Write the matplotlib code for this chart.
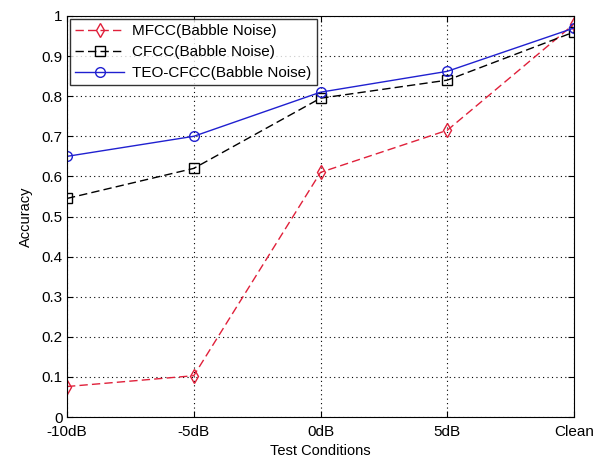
import numpy as np
import matplotlib
matplotlib.use("Agg")
import matplotlib.pyplot as plt

plt.rcParams['font.family'] = ['Liberation Sans', 'DejaVu Sans']

# data
conditions = ['-10dB', '-5dB', '0dB', '5dB', 'Clean']
mfcc = [0.076, 0.103, 0.61, 0.715, 0.98]
cfcc = [0.545, 0.62, 0.795, 0.84, 0.96]
teo_cfcc = [0.65, 0.70, 0.81, 0.862, 0.97]
yticks = [0, 0.1, 0.2, 0.3, 0.4, 0.5, 0.6, 0.7, 0.8, 0.9, 1]

fig = plt.figure(figsize=(6.02, 4.57), dpi=100)
ax = fig.add_axes([0.1113, 0.0875, 0.8422, 0.8775])

x = np.arange(len(conditions))
ax.plot(x, mfcc, linestyle='--', color='#e0203a', marker='d', markersize=7,
        markerfacecolor='none', linewidth=1, dashes=(6, 3),
        label='MFCC(Babble Noise)')
ax.plot(x, cfcc, linestyle='--', color='black', marker='s', markersize=7,
        markerfacecolor='none', linewidth=1, dashes=(6, 3),
        label='CFCC(Babble Noise)')
ax.plot(x, teo_cfcc, linestyle='-', color='#2020d0', marker='o', markersize=7,
        markerfacecolor='none', linewidth=1,
        label='TEO-CFCC(Babble Noise)')

ax.set_xlim(0, len(conditions) - 1)
ax.set_ylim(0, 1)
ax.set_xticks(x)
ax.set_xticklabels(conditions)
ax.set_yticks(yticks)
ax.set_yticklabels([f'{v:g}' for v in yticks])
ax.tick_params(direction='in', length=4, labelsize=11, top=True, right=True)
ax.tick_params(axis='x', pad=6)
ax.tick_params(axis='y', pad=3)
ax.grid(True, linestyle=(0, (1, 3)), color='black', linewidth=0.8)
ax.set_xlabel('Test Conditions', fontsize=10.5, labelpad=3)
ax.set_ylabel('Accuracy', fontsize=10.5, labelpad=6)

leg = ax.legend(loc='upper left', fontsize=11, frameon=True, fancybox=False,
                edgecolor='black', borderaxespad=0.2, handlelength=3.2,
                borderpad=0.35, labelspacing=0.45, handletextpad=0.5)
leg.get_frame().set_linewidth(1)

fig.savefig('out.png', dpi=100)
